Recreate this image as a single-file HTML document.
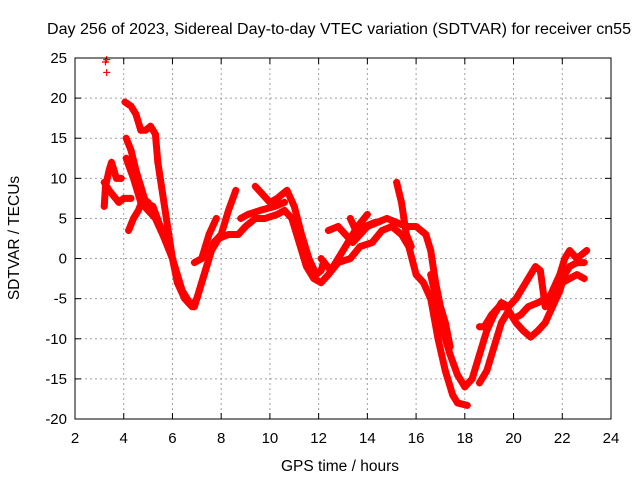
<!DOCTYPE html>
<html><head><meta charset="utf-8"><style>
body{margin:0;background:#fff}
svg{display:block;font-family:"Liberation Sans",sans-serif}
</style></head><body>
<svg id="chart" width="640" height="480" viewBox="0 0 640 480">
<text x="339" y="34" font-size="16" text-anchor="middle" textLength="584" lengthAdjust="spacingAndGlyphs">Day 256 of 2023, Sidereal Day-to-day VTEC variation (SDTVAR) for receiver cn55</text>
<text x="340" y="471" font-size="15.5" text-anchor="middle">GPS time / hours</text>
<text transform="translate(19,238) rotate(-90)" font-size="15.5" text-anchor="middle">SDTVAR / TECUs</text>
<g id="grid"></g>
<g id="ticks"></g>
<g id="series"></g>
<rect x="75" y="58" width="536" height="361" fill="none" stroke="#000" stroke-width="1"/>
</svg>
<script>
const xTicks=[2,4,6,8,10,12,14,16,18,20,22,24];
const yTicks=[-20,-15,-10,-5,0,5,10,15,20,25];
const trackA_x=[4.05,4.3,4.5,4.7,4.9,5.1,5.3,5.4,5.6,5.8,6.0,6.2,6.5,6.8,7.0,7.3,7.6,7.9,8.3,8.7,9.0,9.4,9.8,10.3,10.6,10.9,11.2,11.5,11.8,12.1,12.4,12.8,13.3,13.7,14.2,14.6,15.0,15.4,15.7,16.0,16.3,16.6,16.9,17.2,17.5,17.7,18.1];
const trackA_y=[19.5,19,18,16,16,16.5,15.5,12,8,4,0,-3,-5,-6,-5,-2,1,2.5,3,3,4,5,5,5.5,6,5,2,-1,-2.5,-3,-2,-0.5,0,1.5,2,3.5,4,3,1.5,-2,-3,-5,-10,-14,-17,-18,-18.3];
const trackB_x=[4.1,4.3,4.5,4.7,4.9,5.2,5.5,5.8,6.1,6.4,6.7,6.9,7.1,7.4,7.7,8.0,8.3,8.6];
const trackB_y=[15,13.5,11,9,7,6.5,4,2,-1,-4,-5.5,-6,-4,-1,2,3,6,8.5];
const trackC_x=[4.1,4.4,4.7,5.0,5.3,5.6,6.0];
const trackC_y=[12.5,10,7,6,5,3,0];
const trackD_x=[3.2,3.4,3.8,4.0,4.3];
const trackD_y=[9.5,8.5,7,7.5,7.5];
const trackE_x=[3.2,3.25,3.4,3.5,3.7,3.9];
const trackE_y=[6.5,9,11,12,10,10];
const trackF_x=[4.2,4.4,4.6,4.8,5.0];
const trackF_y=[3.5,5,6,7.5,7];
const trackG_x=[6.9,7.2,7.5,7.8];
const trackG_y=[-0.5,0,3,5];
const trackH_x=[9.4,9.7,10.0,10.3,10.7,11.0,11.3,11.6,11.9,12.1,12.2];
const trackH_y=[9,8,7,7.5,8.5,6.5,3,0,-2,-1.5,-0.5];
const trackI_x=[8.8,9.1,9.6,10.2,10.6];
const trackI_y=[5,5.5,6,6.5,7];
const trackJ_x=[12.4,12.8,13.1,13.4,13.7,14.0,14.4,14.8,15.2,15.6,16.0,16.4,16.6,16.8,17.0,17.2,17.4];
const trackJ_y=[3.5,4,3,2,3,4,4.5,5,4.5,4,4,3,1,-3,-6,-8,-11];
const trackK_x=[12.1,12.5,13.0,13.3,13.6,14.0];
const trackK_y=[0,-1.5,1,2.5,4,5.5];
const trackL_x=[13.3,13.6,13.9,14.3];
const trackL_y=[5,3,4,4.5];
const trackM_x=[15.2,15.4,15.5,15.6,15.8];
const trackM_y=[9.5,7,5,3,1.5];
const trackN_x=[16.6,16.9,17.1,17.4,17.7,18.0,18.3,18.6,18.9,19.2,19.5,19.8,20.1,20.4,20.7,20.9,21.1,21.3,21.6,21.9,22.1,22.3,22.6,23.0];
const trackN_y=[-2,-6,-9,-12,-14.5,-16,-15,-12,-9,-7,-5.5,-6,-5,-3.5,-2,-1,-1.5,-6,-4,-2,0,1,0,1];
const trackO_x=[18.6,18.9,19.2,19.5,19.8,20.1,20.4,20.7,21.0,21.3,21.6,21.9,22.1,22.3,22.6,22.9];
const trackO_y=[-15.5,-14,-11,-8,-6.5,-8,-9,-9.8,-9,-8,-6,-4,-2,-1,-0.5,-0.5];
const trackP_x=[18.6,18.8,19.1,19.4,19.7,20.0,20.3,20.6,21.0,21.3,21.6,22.0,22.3,22.6,22.9];
const trackP_y=[-8.5,-8.5,-7,-6,-6,-7.5,-7,-6,-5.5,-5,-4.5,-3,-2.5,-2,-2.5];
const outlier_x=[3.25,3.3,3.3];
const outlier_y=[24.5,24.8,23.2];
const tracks=[[trackA_x,trackA_y],[trackB_x,trackB_y],[trackC_x,trackC_y],[trackD_x,trackD_y],[trackE_x,trackE_y],[trackF_x,trackF_y],[trackG_x,trackG_y],[trackH_x,trackH_y],[trackI_x,trackI_y],[trackJ_x,trackJ_y],[trackK_x,trackK_y],[trackL_x,trackL_y],[trackM_x,trackM_y],[trackN_x,trackN_y],[trackO_x,trackO_y],[trackP_x,trackP_y]];
const NS="http://www.w3.org/2000/svg";
const L=75,R=611,T=58,B=419;
function sx(v){return L+(v-2)/(24-2)*(R-L);}
function sy(v){return B-(v+20)/(25+20)*(B-T);}
function mk(tag,a,p){const e=document.createElementNS(NS,tag);for(const k in a)e.setAttribute(k,a[k]);p.appendChild(e);return e;}
const grid=document.getElementById('grid'),ticks=document.getElementById('ticks'),series=document.getElementById('series');
xTicks.forEach(v=>{const x=sx(v);
 if(v>2&&v<24){const g=mk('line',{x1:x,x2:x,y1:T,y2:B,stroke:'#a0a0a0','stroke-dasharray':'2,3'},grid);
 
 }
 mk('line',{x1:x,x2:x,y1:B,y2:B-6,stroke:'#000'},ticks);mk('line',{x1:x,x2:x,y1:T,y2:T+6,stroke:'#000'},ticks);
 const t=mk('text',{x:x,y:B+24,'font-size':15,'text-anchor':'middle'},ticks);t.textContent=v;
 
 });
yTicks.forEach(v=>{const y=sy(v);
 if(v>-20&&v<25){const g=mk('line',{x1:L,x2:R,y1:y,y2:y,stroke:'#a0a0a0','stroke-dasharray':'2,3'},grid);
 
 }
 mk('line',{x1:L,x2:L+6,y1:y,y2:y,stroke:'#000'},ticks);mk('line',{x1:R,x2:R-6,y1:y,y2:y,stroke:'#000'},ticks);
 const t=mk('text',{x:L-8,y:y+5,'font-size':15,'text-anchor':'end'},ticks);t.textContent=v;
 
 });
function plus(x,y){const p=mk('path',{d:`M${x-3.5},${y}h7M${x},${y-3.5}v7`,stroke:'#f00','stroke-width':1.2,fill:'none'},series);
 
 }
tracks.forEach(([xs,ys])=>{const pts=xs.map((v,i)=>sx(v)+','+sy(ys[i])).join(' ');
 const pl=mk('polyline',{points:pts,fill:'none',stroke:'#f00','stroke-width':7,'stroke-linejoin':'round','stroke-linecap':'round'},series);
 
 
 xs.forEach((v,i)=>plus(sx(v),sy(ys[i])));});
outlier_x.forEach((v,i)=>plus(sx(v),sy(outlier_y[i])));
</script>
</body></html>
